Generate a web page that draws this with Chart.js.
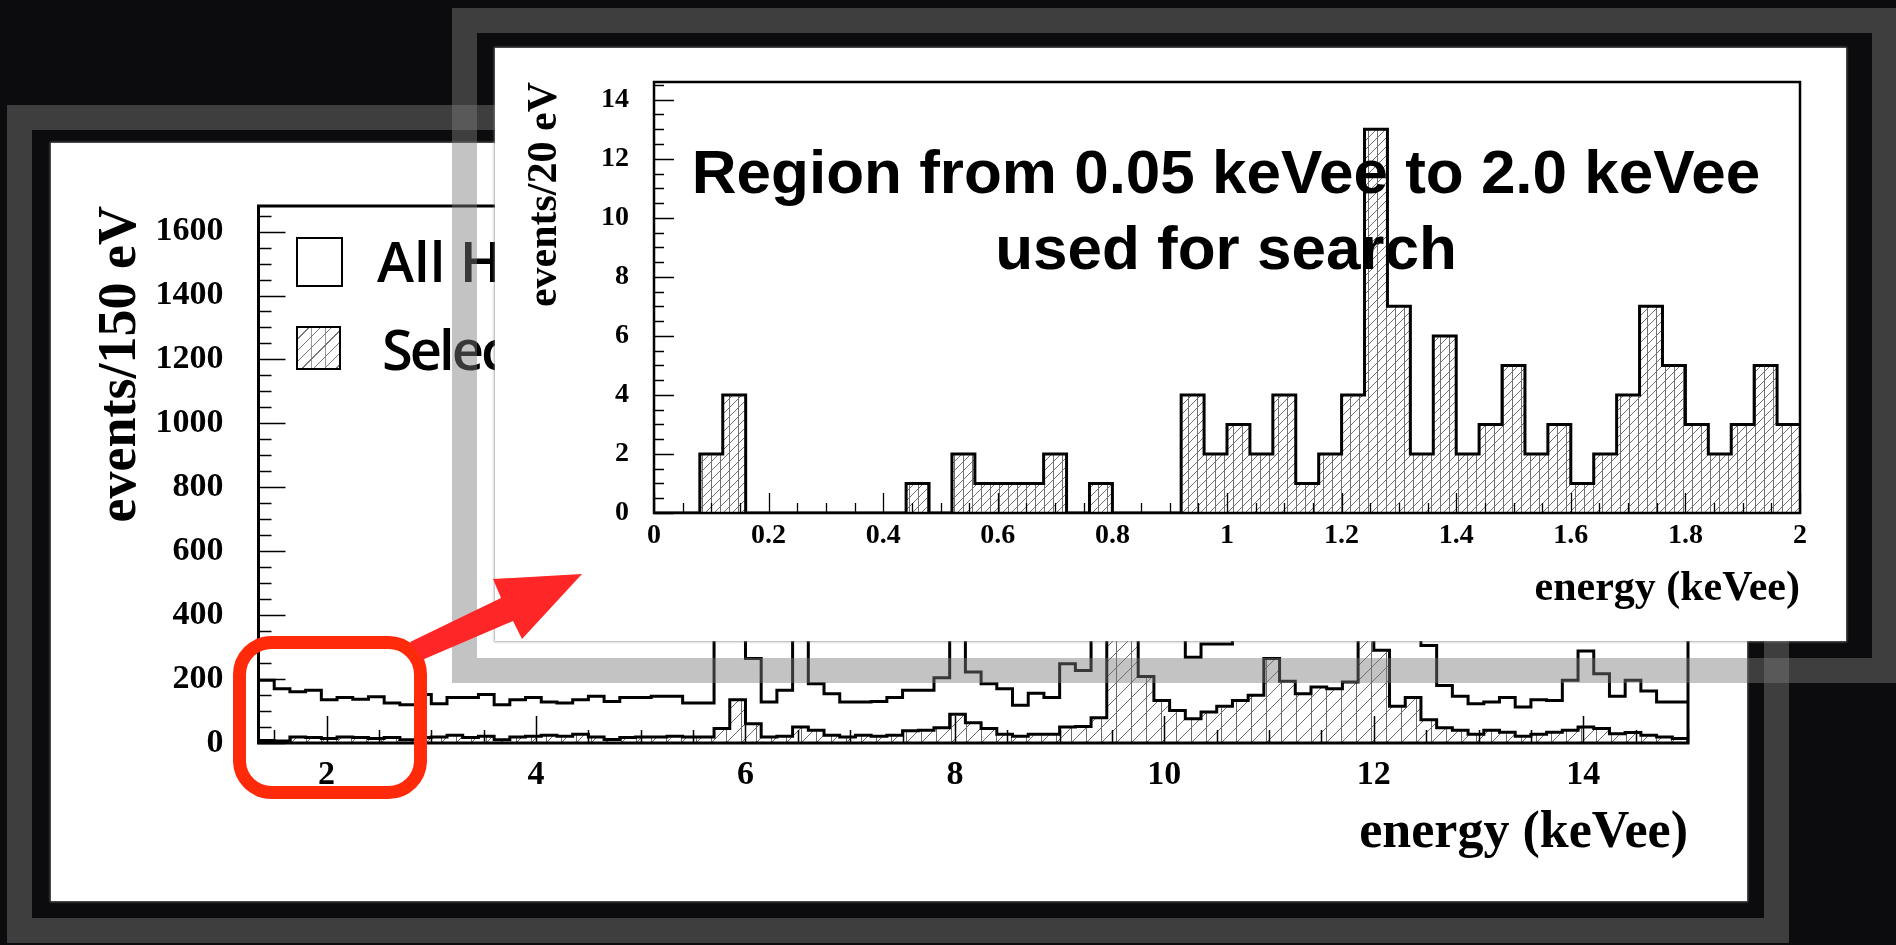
<!DOCTYPE html>
<html>
<head>
<meta charset="utf-8">
<script src="https://cdn.jsdelivr.net/npm/chart.js@4.4.0/dist/chart.umd.min.js"></script>
<style>
  html, body { margin: 0; padding: 0; width: 1896px; height: 945px; overflow: hidden; background: #0c0c0e; }
  .ring { position: absolute; box-sizing: border-box; border: 25px solid rgba(123,123,123,0.455); }
  .panel { position: absolute; background: #fff; box-shadow: 0 0 2px 1px rgba(140,140,140,0.7); }
  #backRing { left: 7px; top: 105px; width: 1782px; height: 838px; }
  #backPanel { left: 51px; top: 143px; width: 1696px; height: 758px; }
  #frontRing { left: 452px; top: 8px; width: 1445px; height: 675px; }
  #frontPanel { left: 495px; top: 48px; width: 1351px; height: 593px; }
  canvas { position: absolute; left: 0; top: 0; }
  .box { position: absolute; box-sizing: border-box; border: 2.5px solid #000; background: #fff; }
  .lbl { position: absolute; font: 600 56px "Open Sans", sans-serif; line-height: 56px; color: #000; white-space: nowrap; }
  #note { position: absolute; left: 526px; top: 134px; width: 1400px; text-align: center;
          font: bold 62px "Liberation Sans", Arial, sans-serif; line-height: 76px; color: #000; white-space: nowrap; }
  svg { position: absolute; left: 0; top: 0; }
</style>
</head>
<body>
<div class="ring" id="backRing"></div>
<div class="panel" id="backPanel">
  <canvas id="backChart" width="1696" height="758"></canvas>
  <div class="box" style="left:245px;top:94px;width:47px;height:50px"></div>
  <div class="lbl" style="left:326px;top:89px">All Hits</div>
  <div class="box" style="left:245px;top:183px;width:45px;height:44px;
       background:repeating-linear-gradient(135deg, transparent 0 7px, #777 7px 8px), repeating-linear-gradient(90deg, transparent 0 13px, #999 13px 14px), #fff"></div>
  <div class="lbl" style="left:331px;top:177px;letter-spacing:-3px">Selected</div>
</div>
<div class="ring" id="frontRing"></div>
<div class="panel" id="frontPanel">
  <canvas id="frontChart" width="1351" height="593"></canvas>
</div>
<div id="note">Region from 0.05 keVee to 2.0 keVee<br>used for search</div>
<svg width="1896" height="945">
  <rect x="239.5" y="642.5" width="181" height="150" rx="32" fill="none" stroke="#fe2a0a" stroke-width="13"/>
  <polygon points="410,642 501,598 493,579 582,574 522,639 513,621 422,660" fill="#fe2626"/>
</svg>

<script>
// back plot: 150 eV bins starting at 1.35 keVee
const backStart = 1.35;
const backBin = 0.15;
const allHits = [196, 170, 160, 165, 135, 142, 137, 145, 125, 120,
                 152, 123, 142, 142, 152, 120, 135, 142, 128, 125,
                 135, 146, 130, 142, 142, 146, 146, 125, 125, 420,
                 780, 264, 128, 165, 520, 185, 154, 128, 128, 130,
                 142, 165, 165, 204, 380, 222, 185, 170, 118, 156,
                 142, 248, 227, 560, 1250, 980, 560, 430, 360, 268,
                 310, 310, 420, 450, 620, 520, 470, 480, 500, 560,
                 1050, 780, 460, 380, 305, 180, 146, 123, 128, 142,
                 113, 135, 133, 196, 288, 217, 146, 196, 163, 128, 128];
const selected = [8, 6, 19, 17, 14, 19, 17, 14, 17, 10,
                  17, 19, 24, 17, 21, 10, 19, 21, 24, 21,
                  27, 19, 11, 17, 19, 19, 21, 19, 19, 45,
                  135, 60, 19, 21, 50, 40, 24, 19, 24, 21,
                  24, 38, 40, 48, 90, 63, 45, 27, 21, 27,
                  27, 50, 52, 79, 480, 420, 208, 133, 102, 76,
                  97, 115, 133, 149, 264, 193, 154, 175, 170, 191,
                  380, 290, 115, 142, 73, 48, 40, 27, 40, 34,
                  21, 27, 34, 40, 50, 45, 29, 33, 24, 19, 14];
const backXTicks = [2, 4, 6, 8, 10, 12, 14];
const backYTicks = [0, 200, 400, 600, 800, 1000, 1200, 1400, 1600];

// zoomed plot: 0 - 2 keVee
const frontStart = 0;
const frontBin = 0.04;
const frontCounts = [0, 0, 2, 4, 0, 0, 0, 0, 0, 0,
                     0, 1, 0, 2, 1, 1, 1, 2, 0, 1,
                     0, 0, 0, 4, 2, 3, 2, 4, 1, 2,
                     4, 13, 7, 2, 6, 2, 3, 5, 2, 3,
                     1, 2, 4, 7, 5, 3, 2, 3, 5, 3];
const frontXTicks = [0, 0.2, 0.4, 0.6, 0.8, 1, 1.2, 1.4, 1.6, 1.8, 2];
const frontYTicks = [0, 2, 4, 6, 8, 10, 12, 14];

const serif = "'Liberation Serif', 'Times New Roman', serif";

// one point per bin low edge, plus the closing edge
function stepPoints(start, width, counts) {
  const pts = counts.map((c, i) => ({ x: start + i * width, y: c }));
  pts.push({ x: start + counts.length * width, y: counts[counts.length - 1] });
  return pts;
}

function hatch(tile, color) {
  const c = document.createElement('canvas');
  c.width = c.height = tile;
  const g = c.getContext('2d');
  g.strokeStyle = color;
  g.lineWidth = 1;
  g.beginPath();
  g.moveTo(-1, tile + 1); g.lineTo(tile + 1, -1);
  g.moveTo(-1, 1); g.lineTo(1, -1);
  g.moveTo(tile - 1, tile + 1); g.lineTo(tile + 1, tile - 1);
  g.moveTo(0.5, 0); g.lineTo(0.5, tile);
  g.stroke();
  return g.createPattern(c, 'repeat');
}

// ROOT style frame with inward ticks
const frameTicks = {
  id: 'frameTicks',
  afterDatasetsDraw(chart, args, o) {
    const { ctx, chartArea: a, scales: { x, y } } = chart;
    ctx.save();
    ctx.strokeStyle = '#000';
    ctx.lineWidth = o.tickWidth;
    ctx.beginPath();
    const isMajor = (list, v) => list.some(t => Math.abs(t - v) < 1e-6);
    for (let k = Math.ceil(x.min / o.xMinor - 1e-9); k * o.xMinor <= x.max + 1e-9; k++) {
      const v = k * o.xMinor;
      const px = Math.round(x.getPixelForValue(v)) + 0.5;
      const len = isMajor(o.xMajor, v) ? o.major : o.minor;
      ctx.moveTo(px, a.bottom); ctx.lineTo(px, a.bottom - len);
    }
    for (let k = Math.ceil(y.min / o.yMinor - 1e-9); k * o.yMinor <= y.max + 1e-9; k++) {
      const v = k * o.yMinor;
      const py = Math.round(y.getPixelForValue(v)) + 0.5;
      const len = isMajor(o.yMajor, v) ? o.major : o.minor;
      ctx.moveTo(a.left, py); ctx.lineTo(a.left + len, py);
    }
    ctx.stroke();
    ctx.lineWidth = o.frameWidth;
    ctx.strokeRect(a.left, a.top, a.right - a.left, a.bottom - a.top);
    ctx.restore();
  }
};

function axis(min, max, ticks, cfg) {
  return {
    type: 'linear', min: min, max: max,
    grid: { display: false, drawTicks: false },
    border: { display: false },
    afterBuildTicks: s => { s.ticks = ticks.map(v => ({ value: v })); },
    afterFit: s => {
      if (cfg.width) { s.width = cfg.width; s.paddingTop = 0; s.paddingBottom = 0; }
      if (cfg.height) s.height = cfg.height;
    },
    ticks: {
      color: '#000', autoSkip: false, maxRotation: 0, padding: cfg.pad,
      font: { family: serif, weight: 'bold', size: cfg.tickSize },
      callback: v => String(Math.round(v * 100) / 100)
    },
    title: {
      display: true, text: cfg.title, align: 'end', color: '#000', padding: 0,
      font: { family: serif, weight: 'bold', size: cfg.titleSize }
    }
  };
}

const backHatch = hatch(15, '#6a6a6a');
const frontHatch = hatch(9, '#707070');

new Chart(document.getElementById('backChart'), {
  type: 'line',
  data: {
    datasets: [
      { label: 'All Hits', data: stepPoints(backStart, backBin, allHits), stepped: 'before',
        borderColor: '#000', borderWidth: 3, pointRadius: 0, fill: false },
      { label: 'Selected', data: stepPoints(backStart, backBin, selected), stepped: 'before',
        borderColor: '#000', borderWidth: 3, pointRadius: 0, fill: 'origin', backgroundColor: backHatch }
    ]
  },
  options: {
    responsive: false, animation: false, devicePixelRatio: 1,
    layout: { padding: { left: 38, top: 63, right: 59, bottom: 36 } },
    plugins: {
      legend: { display: false }, tooltip: { enabled: false },
      frameTicks: { xMajor: backXTicks, yMajor: backYTicks, xMinor: 0.5, yMinor: 50,
                    major: 27, minor: 13, tickWidth: 1.5, frameWidth: 3 }
    },
    scales: {
      x: axis(1.35, 15, backXTicks, { height: 122, pad: 12, tickSize: 34, title: 'energy (keVee)', titleSize: 52 }),
      y: axis(0, 1680, backYTicks, { width: 169.5, pad: 35, tickSize: 34, title: 'events/150 eV', titleSize: 54 })
    }
  },
  plugins: [frameTicks]
});

new Chart(document.getElementById('frontChart'), {
  type: 'line',
  data: {
    datasets: [
      { label: 'Selected', data: stepPoints(frontStart, frontBin, frontCounts), stepped: 'before',
        borderColor: '#000', borderWidth: 3, pointRadius: 0, fill: 'origin', backgroundColor: frontHatch }
    ]
  },
  options: {
    responsive: false, animation: false, devicePixelRatio: 1,
    layout: { padding: { left: 25, top: 34, right: 46, bottom: 27 } },
    plugins: {
      legend: { display: false }, tooltip: { enabled: false },
      frameTicks: { xMajor: frontXTicks, yMajor: frontYTicks, xMinor: 0.05, yMinor: 0.5,
                    major: 20, minor: 10, tickWidth: 1.3, frameWidth: 2.5 }
    },
    scales: {
      x: axis(0, 2, frontXTicks, { height: 101, pad: 6, tickSize: 28, title: 'energy (keVee)', titleSize: 42 }),
      y: axis(0, 14.6, frontYTicks, { width: 134, pad: 25, tickSize: 28, title: 'events/20 eV', titleSize: 42 })
    }
  },
  plugins: [frameTicks]
});
</script>
</body>
</html>
